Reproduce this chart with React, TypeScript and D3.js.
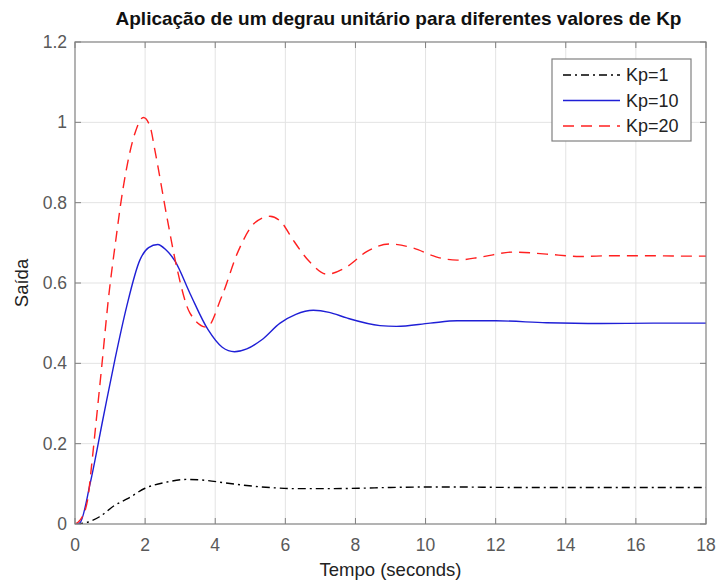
import React, { useEffect, useRef } from "react";
import * as d3 from "d3";

// Kp = 1
const tKp1 = [0, 0.38, 0.7, 1.14, 1.5, 2.0, 2.6, 3.2, 3.8, 4.3, 5.1, 5.7, 6.3, 7.2, 8.1, 9, 10, 11, 12.5, 14, 16, 18];
const yKp1 = [0, 0.005, 0.018, 0.047, 0.063, 0.089, 0.104, 0.111, 0.108, 0.102, 0.094, 0.09, 0.088, 0.088, 0.089, 0.091, 0.092, 0.092, 0.091, 0.091, 0.091, 0.091];

// Kp = 10
const tKp10 = [0, 0.14, 0.43, 0.81, 1.14, 1.47, 1.85, 2.1, 2.36, 2.6, 2.85, 3.28, 3.8, 4.2, 4.55, 4.9, 5.32, 5.85, 6.3, 6.8, 7.25, 7.75, 8.7, 9.17, 10.13, 10.9, 12, 13.45, 15, 16.5, 18];
const yKp10 = [0, 0.003, 0.1, 0.267, 0.41, 0.54, 0.657, 0.688, 0.696, 0.682, 0.655, 0.574, 0.483, 0.44, 0.429, 0.436, 0.458, 0.5, 0.522, 0.532, 0.527, 0.513, 0.494, 0.492, 0.5, 0.506, 0.506, 0.501, 0.499, 0.5, 0.5];

// Kp = 20
const tKp20 = [0, 0.15, 0.36, 0.47, 0.57, 0.76, 0.95, 1.19, 1.3, 1.47, 1.71, 1.95, 2.14, 2.28, 2.61, 2.9, 3.28, 3.76, 4.18, 4.66, 5.13, 5.56, 5.9, 6.2, 6.7, 7.18, 7.75, 8.32, 8.98, 9.65, 10.3, 10.9, 11.6, 12.5, 13.45, 14.4, 15.35, 16.3, 17.2, 18];
const yKp20 = [0, 0.01, 0.06, 0.143, 0.227, 0.39, 0.558, 0.724, 0.795, 0.885, 0.973, 1.012, 0.99, 0.93, 0.77, 0.64, 0.525, 0.49, 0.565, 0.68, 0.75, 0.766, 0.75, 0.71, 0.652, 0.622, 0.64, 0.678, 0.697, 0.687, 0.665, 0.657, 0.665, 0.677, 0.672, 0.666, 0.668, 0.668, 0.667, 0.667];

const xTicks = [0, 2, 4, 6, 8, 10, 12, 14, 16, 18];
const yTicks = [0, 0.2, 0.4, 0.6, 0.8, 1, 1.2];

const series = [
  { name: "Kp=1", t: tKp1, y: yKp1, color: "#000000", dash: "8,4,2,4" },
  { name: "Kp=10", t: tKp10, y: yKp10, color: "#1f1fd6", dash: "" },
  { name: "Kp=20", t: tKp20, y: yKp20, color: "#ff2020", dash: "11,7" },
];

const W = 722;
const H = 583;
const m = { left: 75, right: 16, top: 42, bottom: 59 };
const font = "'Liberation Sans', Arial, sans-serif";

export default function App() {
  const ref = useRef<SVGSVGElement>(null);

  useEffect(() => {
    const svg = d3.select(ref.current);
    svg.selectAll("*").remove();

    const x = d3.scaleLinear().domain([0, 18]).range([m.left, W - m.right]);
    const y = d3.scaleLinear().domain([0, 1.2]).range([H - m.bottom, m.top]);
    const [x0, x1] = x.range();
    const [y0, y1] = y.range();

    svg.append("rect").attr("width", W).attr("height", H).attr("fill", "#fff");

    // grid
    const grid = svg.append("g").attr("stroke", "#e3e3e3").attr("stroke-width", 1);
    xTicks.slice(1, -1).forEach((t) => {
      grid.append("line").attr("x1", x(t)).attr("x2", x(t)).attr("y1", y0).attr("y2", y1);
    });
    yTicks.slice(1, -1).forEach((v) => {
      grid.append("line").attr("x1", x0).attr("x2", x1).attr("y1", y(v)).attr("y2", y(v));
    });

    // lines
    const clip = svg.append("clipPath").attr("id", "plotclip");
    clip.append("rect").attr("x", x0).attr("y", y1).attr("width", x1 - x0).attr("height", y0 - y1);

    series.forEach((s) => {
      const pts = s.t.map((t, i) => [t, s.y[i]] as [number, number]);
      const line = d3
        .line<[number, number]>()
        .x((d) => x(d[0]))
        .y((d) => y(d[1]))
        .curve(d3.curveMonotoneX);
      svg
        .append("path")
        .attr("d", line(pts))
        .attr("fill", "none")
        .attr("stroke", s.color)
        .attr("stroke-width", 1.4)
        .attr("stroke-dasharray", s.dash || null)
        .attr("clip-path", "url(#plotclip)");
    });

    // box and ticks
    const axisColor = "#808080";
    svg
      .append("rect")
      .attr("x", x0)
      .attr("y", y1)
      .attr("width", x1 - x0)
      .attr("height", y0 - y1)
      .attr("fill", "none")
      .attr("stroke", axisColor)
      .attr("stroke-width", 1.2);

    const tk = svg.append("g").attr("stroke", axisColor).attr("stroke-width", 1);
    const tl = 6;
    xTicks.forEach((t) => {
      tk.append("line").attr("x1", x(t)).attr("x2", x(t)).attr("y1", y0).attr("y2", y0 - tl);
      tk.append("line").attr("x1", x(t)).attr("x2", x(t)).attr("y1", y1).attr("y2", y1 + tl);
    });
    yTicks.forEach((v) => {
      tk.append("line").attr("x1", x0).attr("x2", x0 + tl).attr("y1", y(v)).attr("y2", y(v));
      tk.append("line").attr("x1", x1).attr("x2", x1 - tl).attr("y1", y(v)).attr("y2", y(v));
    });

    const labels = svg.append("g").attr("font-family", font).attr("font-size", 17.5).attr("fill", "#595959");
    xTicks.forEach((t) => {
      labels
        .append("text")
        .attr("x", x(t))
        .attr("y", y0 + 27)
        .attr("text-anchor", "middle")
        .text(d3.format("~g")(t));
    });
    yTicks.forEach((v) => {
      labels
        .append("text")
        .attr("x", x0 - 8)
        .attr("y", y(v) + 6)
        .attr("text-anchor", "end")
        .text(d3.format("~g")(v));
    });

    svg
      .append("text")
      .attr("x", (x0 + x1) / 2)
      .attr("y", H - 7)
      .attr("text-anchor", "middle")
      .attr("font-family", font)
      .attr("font-size", 18.5)
      .attr("fill", "#222")
      .text("Tempo (seconds)");

    svg
      .append("text")
      .attr("transform", `translate(28,${(y0 + y1) / 2}) rotate(-90)`)
      .attr("text-anchor", "middle")
      .attr("font-family", font)
      .attr("font-size", 18.5)
      .attr("fill", "#222")
      .text("Saída");

    svg
      .append("text")
      .attr("x", (x0 + x1) / 2 + 8)
      .attr("y", 25)
      .attr("text-anchor", "middle")
      .attr("font-family", font)
      .attr("font-size", 19)
      .attr("font-weight", "bold")
      .attr("fill", "#111")
      .text("Aplicação de um degrau unitário para diferentes valores de Kp");

    // legend
    const lg = svg.append("g").attr("transform", "translate(552,59)");
    lg.append("rect")
      .attr("width", 139)
      .attr("height", 82)
      .attr("fill", "#fff")
      .attr("stroke", "#808080")
      .attr("stroke-width", 1.2);
    series.forEach((s, i) => {
      const yy = 16 + i * 25.5;
      lg.append("line")
        .attr("x1", 11)
        .attr("x2", 68)
        .attr("y1", yy)
        .attr("y2", yy)
        .attr("stroke", s.color)
        .attr("stroke-width", 1.4)
        .attr("stroke-dasharray", s.dash || null);
      lg.append("text")
        .attr("x", 74)
        .attr("y", yy + 6)
        .attr("font-family", font)
        .attr("font-size", 18)
        .attr("fill", "#222")
        .text(s.name);
    });
  }, []);

  return (
    <svg
      ref={ref}
      width={W}
      height={H}
      style={{ position: "absolute", left: 0, top: 0 }}
    />
  );
}
